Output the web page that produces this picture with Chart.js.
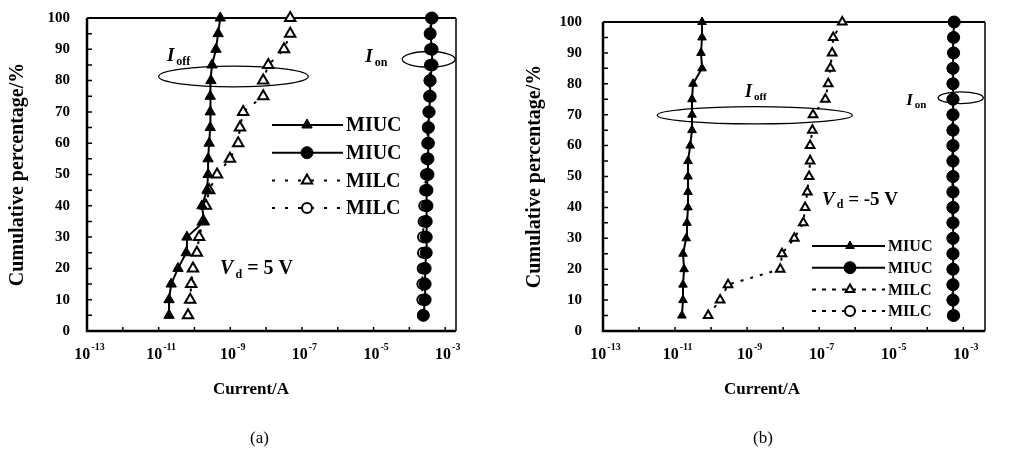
<!DOCTYPE html>
<html>
<head>
<meta charset="utf-8">
<script src="https://cdn.jsdelivr.net/npm/chart.js@4.4.1/dist/chart.umd.min.js"></script>
<style>
  body { margin: 0; background: #fff; }
  #wrap { position: relative; width: 1021px; height: 461px; overflow: hidden; }
  canvas { position: absolute; top: 0; }
  .cap { position: absolute; top: 428px; font: 17px "Liberation Serif", serif; color: #000; }
</style>
</head>
<body>
<div id="wrap">
  <canvas id="chartA" width="510" height="461" style="left:0"></canvas>
  <canvas id="chartB" width="511" height="461" style="left:510px"></canvas>
  <div class="cap" style="left:250px">(a)</div>
  <div class="cap" style="left:753px">(b)</div>
</div>
<script>
/*-------------------------------------------------------------------------*/
// Data (cumulative percentage vs current)
/*-------------------------------------------------------------------------*/
var percent = [5, 10, 15, 20, 25, 30, 35, 40, 45, 50, 55, 60, 65, 70, 75, 80, 85, 90, 95, 100];
var xTickExponents = [-13, -11, -9, -7, -5, -3];
var seriesLabels = ['MIUC', 'MIUC', 'MILC', 'MILC'];

// (a) Vd = 5 V
var miucTriA = [1.95e-11, 1.95e-11, 2.24e-11, 3.47e-11, 5.89e-11, 6.17e-11, 1.86e-10, 1.62e-10, 2.24e-10, 2.40e-10,
                2.40e-10, 2.57e-10, 2.75e-10, 2.75e-10, 2.75e-10, 2.88e-10, 3.09e-10, 3.98e-10, 4.57e-10, 5.25e-10];
var miucCirA = [2.45e-4, 2.75e-4, 2.75e-4, 2.75e-4, 2.95e-4, 2.95e-4, 2.95e-4, 3.1e-4, 3.1e-4, 3.3e-4,
                3.3e-4, 3.4e-4, 3.4e-4, 3.55e-4, 3.8e-4, 3.8e-4, 4.3e-4, 4.3e-4, 3.8e-4, 4.3e-4];
var milcTriA = [6.6e-11, 7.6e-11, 8.1e-11, 9.1e-11, 1.17e-10, 1.35e-10, 1.74e-10, 2.09e-10, 2.57e-10, 4.27e-10,
                9.8e-10, 1.66e-9, 1.86e-9, 2.29e-9, 8.3e-9, 8.3e-9, 1.15e-8, 3.16e-8, 4.7e-8, 4.7e-8];
var milcCirA = [2.4e-4, 2.3e-4, 2.3e-4, 2.35e-4, 2.4e-4, 2.4e-4, 2.5e-4, 2.6e-4, 2.75e-4, 2.9e-4,
                3.0e-4, 3.15e-4, 3.25e-4, 3.4e-4, 3.55e-4, 3.65e-4, 3.75e-4, 3.8e-4, 3.8e-4, 4.0e-4];

// (b) Vd = -5 V
var miucTriB = [1.55e-11, 1.66e-11, 1.66e-11, 1.78e-11, 1.66e-11, 2.04e-11, 2.14e-11, 2.29e-11, 2.29e-11, 2.29e-11,
                2.29e-11, 2.63e-11, 2.95e-11, 2.95e-11, 2.95e-11, 3.16e-11, 5.6e-11, 5.25e-11, 5.6e-11, 5.6e-11];
var miucCirB = [5.4e-4, 5.2e-4, 5.2e-4, 5.2e-4, 5.2e-4, 5.2e-4, 5.2e-4, 5.2e-4, 5.2e-4, 5.2e-4,
                5.2e-4, 5.2e-4, 5.2e-4, 5.2e-4, 5.2e-4, 5.2e-4, 5.2e-4, 5.4e-4, 5.4e-4, 5.6e-4];
var milcTriB = [8.3e-11, 1.78e-10, 2.95e-10, 8.3e-9, 9.3e-9, 2.04e-8, 3.63e-8, 4.07e-8, 4.68e-8, 5.25e-8,
                5.6e-8, 5.6e-8, 6.46e-8, 6.76e-8, 1.48e-7, 1.78e-7, 2.04e-7, 2.29e-7, 2.45e-7, 4.37e-7];
var milcCirB = [5.1e-4, 5.0e-4, 5.0e-4, 5.0e-4, 5.0e-4, 5.0e-4, 5.0e-4, 5.0e-4, 5.0e-4, 5.0e-4,
                5.0e-4, 5.0e-4, 5.0e-4, 5.0e-4, 5.0e-4, 5.0e-4, 5.0e-4, 5.2e-4, 5.2e-4, 5.4e-4];

var SERIF = '"Liberation Serif", "Times New Roman", serif';

function toPoints(currents) {
	return percent.map(function(p, i) { return { x: currents[i], y: p }; });
}

function makeDatasets(miucTri, miucCir, milcTri, milcCir, sz) {
	var base = { showLine: true, borderColor: '#000', pointBorderColor: '#000', clip: false };
	return [
		Object.assign({}, base, { label: seriesLabels[0], data: toPoints(miucTri), borderWidth: 2,
			pointStyle: 'triangle', pointRadius: sz.tri, pointBackgroundColor: '#000', pointBorderWidth: 1 }),
		Object.assign({}, base, { label: seriesLabels[1], data: toPoints(miucCir), borderWidth: 2,
			pointStyle: 'circle', pointRadius: sz.cir, pointBackgroundColor: '#000', pointBorderWidth: 1 }),
		Object.assign({}, base, { label: seriesLabels[2], data: toPoints(milcTri), borderWidth: 2, borderDash: sz.dash,
			pointStyle: 'triangle', pointRadius: sz.tri, pointBackgroundColor: '#fff', pointBorderWidth: 2 }),
		Object.assign({}, base, { label: seriesLabels[3], data: toPoints(milcCir), borderWidth: 2, borderDash: sz.dash,
			pointStyle: 'circle', pointRadius: sz.cir - 1, pointBackgroundColor: '#fff', pointBorderWidth: 2 })
	];
}

// main letter in italic with a subscript, optional trailing text
function drawSubText(ctx, x, y, main, sub, tail, size) {
	ctx.textAlign = 'left';
	ctx.textBaseline = 'alphabetic';
	ctx.font = 'italic bold ' + size + 'px ' + SERIF;
	ctx.fillText(main, x, y);
	var w = ctx.measureText(main).width + 2;
	ctx.font = 'bold ' + Math.round(size * 0.62) + 'px ' + SERIF;
	ctx.fillText(sub, x + w, y + size * 0.18);
	w += ctx.measureText(sub).width;
	if (tail) {
		ctx.font = 'bold ' + size + 'px ' + SERIF;
		ctx.fillText(tail, x + w, y);
	}
}

/*-------------------------------------------------------------------------*/
// Plugin: frame, inward ticks, x labels, annotations, legend
/*-------------------------------------------------------------------------*/
var paperPlugin = {
	id: 'paper',
	beforeDatasetsDraw: function(chart, args, opts) {
		var ctx = chart.ctx, a = chart.chartArea, xs = chart.scales.x, ys = chart.scales.y;
		ctx.save();
		ctx.strokeStyle = '#000';
		ctx.lineWidth = 2.5;
		ctx.beginPath();
		ctx.moveTo(a.left, a.top); ctx.lineTo(a.left, a.bottom); ctx.lineTo(a.right, a.bottom);
		ctx.stroke();
		ctx.lineWidth = 2;
		ctx.beginPath();
		ctx.moveTo(a.left, a.top); ctx.lineTo(a.right, a.top);
		ctx.stroke();
		ctx.lineWidth = 1.5;
		ctx.beginPath();
		ctx.moveTo(a.right, a.top); ctx.lineTo(a.right, a.bottom);
		ctx.stroke();
		// inward ticks
		ctx.lineWidth = 1.5;
		ctx.beginPath();
		for (var v = 5; v < 100; v += 5) {
			var py = ys.getPixelForValue(v);
			ctx.moveTo(a.left, py); ctx.lineTo(a.left + 5, py);
		}
		for (var e = -12; e <= -3; e++) {
			var px = xs.getPixelForValue(Math.pow(10, e));
			ctx.moveTo(px, a.bottom); ctx.lineTo(px, a.bottom - 4);
		}
		ctx.stroke();
		// ellipses
		ctx.lineWidth = 1.3;
		opts.ellipses.forEach(function(el) {
			var x0 = xs.getPixelForValue(el.x0), x1 = xs.getPixelForValue(el.x1);
			var y0 = ys.getPixelForValue(el.y0), y1 = ys.getPixelForValue(el.y1);
			ctx.beginPath();
			ctx.ellipse((x0 + x1) / 2, (y0 + y1) / 2, Math.abs(x1 - x0) / 2, Math.abs(y1 - y0) / 2, 0, 0, Math.PI * 2);
			ctx.stroke();
		});
		ctx.restore();
	},
	afterDraw: function(chart, args, opts) {
		var ctx = chart.ctx, a = chart.chartArea, xs = chart.scales.x, ys = chart.scales.y;
		ctx.save();
		ctx.fillStyle = '#000';
		// x tick labels 10^n
		xTickExponents.forEach(function(e) {
			var px = xs.getPixelForValue(Math.pow(10, e)) + 2;
			ctx.font = 'bold 16px ' + SERIF;
			var w1 = ctx.measureText('10').width;
			ctx.font = 'bold 10px ' + SERIF;
			var sup = String(e);
			var w2 = ctx.measureText(sup).width;
			var x0 = px - (w1 + w2) / 2;
			ctx.textAlign = 'left';
			ctx.textBaseline = 'alphabetic';
			ctx.font = 'bold 16px ' + SERIF;
			ctx.fillText('10', x0, a.bottom + 28);
			ctx.font = 'bold 10px ' + SERIF;
			ctx.fillText(sup, x0 + w1 + 1, a.bottom + 19);
		});
		// x axis title
		ctx.font = 'bold 17px ' + SERIF;
		ctx.textAlign = 'center';
		ctx.textBaseline = 'middle';
		ctx.fillText('Current/A', a.left + opts.titleOffset, 390);
		// annotation texts
		opts.labels.forEach(function(lb) {
			drawSubText(ctx, xs.getPixelForValue(lb.x), ys.getPixelForValue(lb.y), lb.main, lb.sub, lb.tail, lb.size);
		});
		// legend
		var lg = opts.legend;
		chart.data.datasets.forEach(function(ds, i) {
			var y = lg.top + i * lg.gap;
			ctx.strokeStyle = '#000';
			ctx.lineWidth = 2;
			ctx.setLineDash(ds.borderDash ? lg.dash : []);
			ctx.beginPath();
			ctx.moveTo(lg.x0, y); ctx.lineTo(lg.x1, y);
			ctx.stroke();
			ctx.setLineDash([]);
			ctx.fillStyle = ds.pointBackgroundColor;
			ctx.lineWidth = ds.pointBorderWidth;
			Chart.helpers.drawPoint(ctx, { pointStyle: ds.pointStyle, radius: ds.pointRadius, rotation: 0,
				borderWidth: ds.pointBorderWidth }, lg.mark, y);
			ctx.fillStyle = '#000';
			ctx.font = 'bold ' + lg.size + 'px ' + SERIF;
			ctx.textAlign = 'left';
			ctx.textBaseline = 'middle';
			ctx.fillText(ds.label, lg.x1 + 3, y + 1);
		});
		ctx.restore();
	}
};

function makeChart(id, datasets, xMax, padRight, yWidth, yPad, titlePad, paper) {
	return new Chart(document.getElementById(id), {
		type: 'scatter',
		data: { datasets: datasets },
		plugins: [paperPlugin],
		options: {
			responsive: false,
			animation: false,
			devicePixelRatio: 1,
			layout: { padding: { left: 0, top: 13, right: padRight, bottom: 0 } },
			plugins: { legend: { display: false }, tooltip: { enabled: false }, paper: paper },
			scales: {
				x: {
					type: 'logarithmic', min: 1e-13, max: xMax,
					grid: { display: false }, border: { display: false }, ticks: { display: false },
					afterFit: function(s) { s.height = 130; }
				},
				y: {
					min: 0, max: 100,
					grid: { display: false }, border: { display: false },
					ticks: { stepSize: 10, color: '#000', padding: yPad, font: { family: SERIF, size: 15, weight: 'bold' } },
					title: { display: true, text: 'Cumulative percentage/%', color: '#000', padding: { top: titlePad, bottom: 0 },
						font: { family: SERIF, size: 20, weight: 'bold' } },
					afterFit: function(s) { s.width = yWidth; }
				}
			}
		}
	});
}

makeChart('chartA', makeDatasets(miucTriA, miucCirA, milcTriA, milcCirA, { tri: 6, cir: 6, dash: [3, 9] }),
	2e-3, 54, 87, 9, 6, {
		titleOffset: 164,
		ellipses: [
			{ x0: 1.0e-11, x1: 1.5e-7, y0: 78, y1: 84.6 },
			{ x0: 6.3e-5, x1: 1.9e-3, y0: 84.3, y1: 89.3 }
		],
		labels: [
			{ x: 1.7e-11, y: 86.2, main: 'I', sub: 'off', size: 19 },
			{ x: 5.9e-6, y: 85.8, main: 'I', sub: 'on', size: 19 },
			{ x: 5.2e-10, y: 18.2, main: 'V', sub: 'd', tail: ' = 5 V', size: 20 }
		],
		legend: { x0: 272, x1: 343, mark: 307, top: 125, gap: 27.7, size: 20, dash: [3, 10] }
	});

makeChart('chartB', makeDatasets(miucTriB, miucCirB, milcTriB, milcCirB, { tri: 5, cir: 6, dash: [3, 7] }),
	4e-3, 36, 93, 13, 13, {
		titleOffset: 159,
		ellipses: [
			{ x0: 3.2e-12, x1: 8.3e-7, y0: 67, y1: 72.6 },
			{ x0: 2.0e-4, x1: 3.6e-3, y0: 73.6, y1: 77.4 }
		],
		labels: [
			{ x: 8.7e-10, y: 75.8, main: 'I', sub: 'off', size: 18 },
			{ x: 2.6e-5, y: 73, main: 'I', sub: 'on', size: 17 },
			{ x: 1.2e-7, y: 40.8, main: 'V', sub: 'd', tail: ' = -5 V', size: 19 }
		],
		legend: { x0: 302, x1: 375, mark: 340, top: 246, gap: 21.7, size: 16, dash: [4, 6] }
	});
</script>
</body>
</html>
